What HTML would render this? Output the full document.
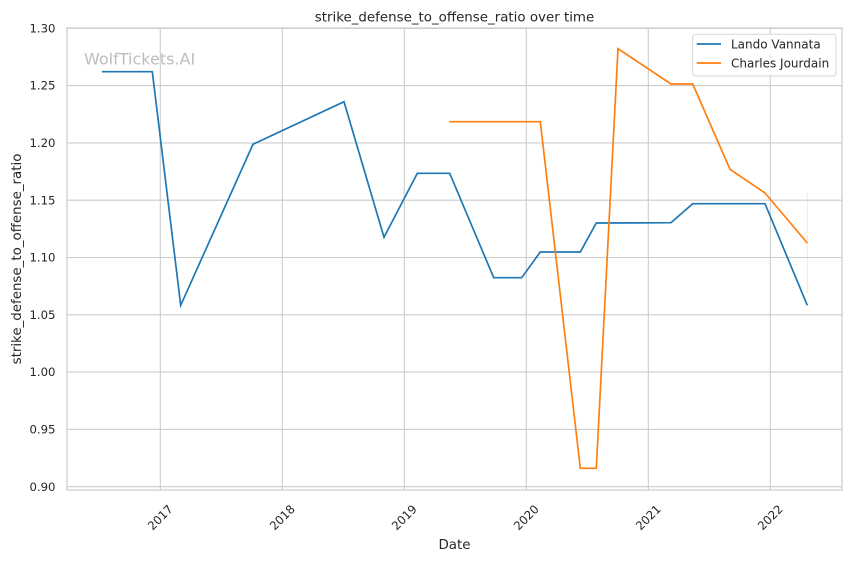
<!DOCTYPE html>
<html>
<head>
<meta charset="utf-8">
<style>
  html, body { margin: 0; padding: 0; background: #ffffff; }
  svg { display: block; }
  text { font-family: "DejaVu Sans", "Liberation Sans", sans-serif; fill: #262626; }
</style>
</head>
<body>
<svg width="852" height="561" viewBox="0 0 852 561" xmlns="http://www.w3.org/2000/svg">
  <rect x="0" y="0" width="852" height="561" fill="#ffffff"/>

  <!-- grid -->
  <g stroke="#cccccc" stroke-width="1.1" fill="none">
    <line x1="67" y1="28.3" x2="842" y2="28.3"/>
    <line x1="67" y1="85.6" x2="842" y2="85.6"/>
    <line x1="67" y1="142.9" x2="842" y2="142.9"/>
    <line x1="67" y1="200.2" x2="842" y2="200.2"/>
    <line x1="67" y1="257.5" x2="842" y2="257.5"/>
    <line x1="67" y1="314.8" x2="842" y2="314.8"/>
    <line x1="67" y1="372.1" x2="842" y2="372.1"/>
    <line x1="67" y1="429.4" x2="842" y2="429.4"/>
    <line x1="67" y1="486.7" x2="842" y2="486.7"/>
    <line x1="160.3" y1="28" x2="160.3" y2="490"/>
    <line x1="282.3" y1="28" x2="282.3" y2="490"/>
    <line x1="404.3" y1="28" x2="404.3" y2="490"/>
    <line x1="526.3" y1="28" x2="526.3" y2="490"/>
    <line x1="648.3" y1="28" x2="648.3" y2="490"/>
    <line x1="770.3" y1="28" x2="770.3" y2="490"/>
  </g>
  <!-- spines -->
  <rect x="67" y="28" width="775" height="462" fill="none" stroke="#cccccc" stroke-width="1.25"/>

  <!-- watermark -->
  <text x="84" y="64.3" font-size="16" style="fill:#bdbdbd">WolfTickets.AI</text>

  <!-- faint CI line -->
  <line x1="807.3" y1="193" x2="807.3" y2="293.5" stroke="#ff7f0e" stroke-opacity="0.2" stroke-width="1"/>

  <!-- Lando Vannata -->
  <polyline fill="none" stroke="#1f77b4" stroke-width="1.7" stroke-linejoin="miter" points="
    102,71.7 152.3,71.7 180.7,305.3 253,144.3 344,101.7 384,237.3 417.3,173.3 449.7,173.3
    493.7,277.7 521.7,277.7 540.3,252 580.3,252 596.3,223 671,222.7 692.7,203.7 765,203.7 807.3,305.3"/>

  <!-- Charles Jourdain -->
  <polyline fill="none" stroke="#ff7f0e" stroke-width="1.7" stroke-linejoin="miter" points="
    449.3,121.7 540.3,121.7 580.3,468.3 596.3,468.3 618,48.7 671,84 692.7,84 730,169.3 765,193 807.3,243"/>

  <!-- y tick labels -->
  <g font-size="11.7" text-anchor="end">
    <text x="55.5" y="32.4">1.30</text>
    <text x="55.5" y="89.7">1.25</text>
    <text x="55.5" y="147">1.20</text>
    <text x="55.5" y="204.3">1.15</text>
    <text x="55.5" y="261.6">1.10</text>
    <text x="55.5" y="318.9">1.05</text>
    <text x="55.5" y="376.2">1.00</text>
    <text x="55.5" y="433.5">0.95</text>
    <text x="55.5" y="490.8">0.90</text>
  </g>

  <!-- x tick labels -->
  <g font-size="11.7" text-anchor="middle">
    <text x="160.3" y="521.5" transform="rotate(-45 160.3 517.5)">2017</text>
    <text x="282.3" y="521.5" transform="rotate(-45 282.3 517.5)">2018</text>
    <text x="404.3" y="521.5" transform="rotate(-45 404.3 517.5)">2019</text>
    <text x="526.3" y="521.5" transform="rotate(-45 526.3 517.5)">2020</text>
    <text x="648.3" y="521.5" transform="rotate(-45 648.3 517.5)">2021</text>
    <text x="770.3" y="521.5" transform="rotate(-45 770.3 517.5)">2022</text>
  </g>

  <!-- title & axis labels -->
  <text x="454.5" y="21.5" font-size="13.4" text-anchor="middle">strike_defense_to_offense_ratio over time</text>
  <text x="454.5" y="549" font-size="13.4" text-anchor="middle">Date</text>
  <text x="21" y="259" font-size="13.4" text-anchor="middle" transform="rotate(-90 21 259)">strike_defense_to_offense_ratio</text>

  <!-- legend -->
  <rect x="692.7" y="34.3" width="143.3" height="41.7" rx="3" ry="3" fill="#ffffff" fill-opacity="0.8" stroke="#d6d6d6" stroke-width="1"/>
  <line x1="696.7" y1="44" x2="721" y2="44" stroke="#1f77b4" stroke-width="1.7"/>
  <line x1="696.7" y1="63" x2="721" y2="63" stroke="#ff7f0e" stroke-width="1.7"/>
  <text x="731" y="48.3" font-size="12">Lando Vannata</text>
  <text x="731" y="67.3" font-size="12">Charles Jourdain</text>
</svg>
</body>
</html>
